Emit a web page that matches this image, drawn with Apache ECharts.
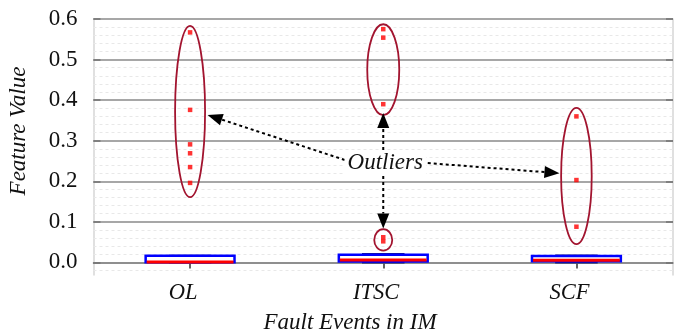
<!DOCTYPE html>
<html>
<head>
<meta charset="utf-8">
<script src="https://cdn.jsdelivr.net/npm/echarts@6/dist/echarts.min.js"></script>
<style>html,body{margin:0;padding:0;background:#fff;}#c{width:680px;height:335px;}</style>
</head>
<body>
<div id="c"></div>
<script>
// ---- data ----
const categories = ['OL', 'ITSC', 'SCF'];
const boxLow    = [0.000, 0.000, 0.000];
const boxQ1     = [0.0005, 0.002, 0.003];
const boxMedian = [0.001, 0.006, 0.0055];
const boxQ3     = [0.0165, 0.019, 0.016];
const boxHigh   = [0.0165, 0.021, 0.017];
const outliersOL   = [0.567, 0.376, 0.291, 0.269, 0.235, 0.196];
const outliersITSC = [0.575, 0.554, 0.390, 0.062, 0.052];
const outliersSCF  = [0.360, 0.203, 0.088];
const yTicks = [0, 0.1, 0.2, 0.3, 0.4, 0.5, 0.6];
const yMinorTicks = [-0.02, 0.02, 0.04, 0.06, 0.08, 0.12, 0.14, 0.16, 0.18, 0.22, 0.24, 0.26, 0.28,
  0.32, 0.34, 0.36, 0.38, 0.42, 0.44, 0.46, 0.48, 0.52, 0.54, 0.56, 0.58];
// annotations: [category index, top value, bottom value]
const ellipses = [[0, 0.583, 0.161], [1, 0.587, 0.363], [1, 0.082, 0.029], [2, 0.381, 0.045]];
const ellipseHalfWidth = [15, 16, 9, 15.3];
const annotationText = 'Outliers';

const FONT = '"Liberation Serif", "Times New Roman", serif';
const chart = echarts.init(document.getElementById('c'), null, {renderer: 'canvas'});

const boxData = categories.map((c, i) => [i, boxLow[i], boxQ1[i], boxMedian[i], boxQ3[i], boxHigh[i]]);
const outlierData = [].concat(
  outliersOL.map(v => [0, v]),
  outliersITSC.map(v => [1, v]),
  outliersSCF.map(v => [2, v])
);

function renderBox(params, api) {
  const i = api.value(0);
  const low = api.coord([i, api.value(1)]);
  const q1 = api.coord([i, api.value(2)]);
  const med = api.coord([i, api.value(3)]);
  const q3 = api.coord([i, api.value(4)]);
  const high = api.coord([i, api.value(5)]);
  const band = api.size([1, 0])[0];
  const hw = band * 0.23, cw = band * 0.11;
  const x = q3[0];
  return {type: 'group', children: [
    {type: 'line', shape: {x1: x, y1: q3[1], x2: x, y2: high[1]}, style: {stroke: '#000', lineWidth: 1, lineDash: [3, 3]}},
    {type: 'line', shape: {x1: x, y1: q1[1], x2: x, y2: low[1]}, style: {stroke: '#000', lineWidth: 1, lineDash: [3, 3]}},
    {type: 'line', shape: {x1: x - cw, y1: high[1], x2: x + cw, y2: high[1]}, style: {stroke: '#1a1a6e', lineWidth: 2}},
    {type: 'line', shape: {x1: x - cw, y1: low[1], x2: x + cw, y2: low[1]}, style: {stroke: '#1a1a6e', lineWidth: 2}},
    {type: 'rect', shape: {x: x - hw, y: q3[1], width: 2 * hw, height: q1[1] - q3[1]}, style: {fill: '#fff', stroke: '#0000ff', lineWidth: 2.5}},
    {type: 'line', shape: {x1: x - hw + 1, y1: med[1], x2: x + hw - 1, y2: med[1]}, style: {stroke: '#ff0000', lineWidth: 3}}
  ]};
}

const option = {
  animation: false,
  backgroundColor: '#fff',
  grid: {left: 93.5, right: 7, top: 19, bottom: 60, containLabel: false, outerBoundsMode: 'none'},
  xAxis: [{
    type: 'category', data: categories, position: 'bottom', boundaryGap: true,
    axisLine: {show: true, lineStyle: {color: '#d6d6d6', width: 1.5}},
    axisTick: {show: true, inside: true, alignWithLabel: true, length: 6, lineStyle: {color: '#333', width: 1.5}},
    axisLabel: {fontFamily: FONT, fontStyle: 'italic', fontSize: 22.5, color: '#111', margin: 7, padding: [0, 14, 0, 0]},
    splitLine: {show: false}
  }, {
    type: 'category', data: categories, position: 'top', boundaryGap: true,
    axisLine: {show: true, lineStyle: {color: '#8a8a8a', width: 1.5}},
    axisTick: {show: true, inside: true, alignWithLabel: true, length: 6, lineStyle: {color: '#333', width: 1.5}},
    axisLabel: {show: false}, splitLine: {show: false}
  }],
  yAxis: [{
    type: 'value', min: -0.031, max: 0.6, position: 'left',
    axisLine: {show: true, lineStyle: {color: '#d6d6d6', width: 1.5}},
    axisTick: {show: true, inside: true, length: 7, customValues: yTicks, lineStyle: {color: '#333', width: 1.5}},
    axisLabel: {customValues: yTicks, formatter: v => v.toFixed(1), fontFamily: FONT, fontSize: 23, color: '#111', margin: 16},
    splitLine: {show: false}, minorTick: {show: false}
  }, {
    type: 'value', min: -0.031, max: 0.6, position: 'right',
    axisLine: {show: true, lineStyle: {color: '#d6d6d6', width: 1.5}},
    axisTick: {show: true, inside: true, length: 7, customValues: yTicks, lineStyle: {color: '#333', width: 1.5}},
    axisLabel: {show: false}, splitLine: {show: false}
  }],
  series: [{
    type: 'line', data: [], silent: true, z: 1,
    markLine: {silent: true, symbol: 'none', label: {show: false}, animation: false,
      lineStyle: {type: [3, 3], color: '#e8e8e8', width: 1},
      data: yMinorTicks.map(v => ({yAxis: v}))}
  }, {
    type: 'line', data: [], silent: true, z: 2,
    markLine: {silent: true, symbol: 'none', label: {show: false}, animation: false,
      lineStyle: {type: 'solid', color: '#8a8a8a', width: 1.5},
      data: yTicks.map(v => ({yAxis: v}))}
  }, {
    type: 'custom', renderItem: renderBox, data: boxData, z: 5,
    encode: {x: 0, y: [1, 2, 3, 4, 5]}
  }, {
    type: 'scatter', data: outlierData, symbol: 'rect', symbolSize: 4.5, z: 6,
    itemStyle: {color: '#ff0000'}
  }]
};
chart.setOption(option);

// ---- annotations (ellipses, arrows, text) positioned through the axes ----
function px(c, v, dx) {
  const p = chart.convertToPixel({gridIndex: 0}, [c, v]);
  return [p[0] + (dx || 0), p[1]];
}
function arrow(s, e) {
  const dx = e[0] - s[0], dy = e[1] - s[1];
  const L = Math.sqrt(dx * dx + dy * dy);
  const ux = dx / L, uy = dy / L;
  const hl = 15, hw = 6;
  const b = [e[0] - ux * hl, e[1] - uy * hl];
  const n = [-uy, ux];
  return [
    {type: 'line', z: 20, shape: {x1: s[0], y1: s[1], x2: b[0], y2: b[1]}, style: {stroke: '#000', lineWidth: 2, lineDash: [3, 3]}},
    {type: 'polygon', z: 20, shape: {points: [e, [b[0] + n[0] * hw, b[1] + n[1] * hw], [b[0] - n[0] * hw, b[1] - n[1] * hw]]}, style: {fill: '#000'}}
  ];
}
const graphics = [];
ellipses.forEach((el, k) => {
  const t = px(el[0], el[1]), b = px(el[0], el[2]);
  graphics.push({type: 'ellipse', z: 15, shape: {cx: t[0], cy: (t[1] + b[1]) / 2, rx: ellipseHalfWidth[k], ry: (b[1] - t[1]) / 2},
    style: {fill: 'none', stroke: '#a2142f', lineWidth: 1.8}});
});
graphics.push(...arrow(px(1, 0.2526, -38.5), px(0, 0.3635, 17.5)));
graphics.push(...arrow(px(1, 0.245, 44.5), px(2, 0.2198, -17)));
graphics.push(...arrow(px(1, 0.277, 0), px(1, 0.368, 0)));
graphics.push(...arrow(px(1, 0.213, 0), px(1, 0.0838, 0)));
const tp = px(1, 0.245, 2);
graphics.push({type: 'text', z: 25, x: tp[0], y: tp[1],
  style: {text: annotationText, font: 'italic 23px ' + FONT, fill: '#111', align: 'center', verticalAlign: 'middle',
    backgroundColor: '#fff', padding: [0, 3]}});
graphics.push({type: 'text', z: 25, x: 350, y: 323,
  style: {text: 'Fault Events in IM', font: 'italic 23px ' + FONT, fill: '#111', align: 'center', verticalAlign: 'middle'}});
graphics.push({type: 'text', z: 25, x: 19, y: 131, rotation: Math.PI / 2,
  style: {text: 'Feature Value', font: 'italic 23px ' + FONT, fill: '#111', align: 'center', verticalAlign: 'middle'}});
chart.setOption({graphic: graphics});
</script>
</body>
</html>
